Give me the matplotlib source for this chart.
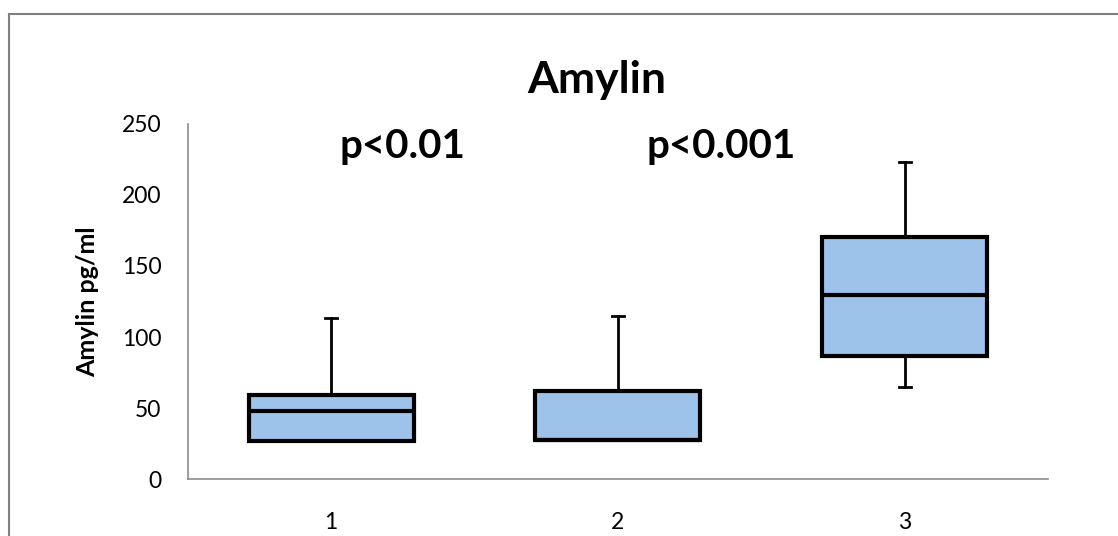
import matplotlib
matplotlib.use('Agg')
import matplotlib.pyplot as plt
from matplotlib.patches import Rectangle

# Box statistics (pg/ml)
groups = ['1', '2', '3']
whisker_low = [27, 27.5, 64.6]
q1 = [27, 27.5, 86.6]
medians = [48.1, 27.5, 129.6]
q3 = [59.2, 62.2, 170.6]
whisker_high = [113.6, 115, 223.2]

pvals = ['p<0.01', 'p<0.001']
pval_x = [1.25, 2.36]
pval_y = 226

plt.rcParams['font.family'] = ['Lato', 'DejaVu Sans']

fig = plt.figure(figsize=(11.18, 5.36), dpi=100)
ax = fig.add_axes([0.168, 0.1063, 0.7694, 0.6624])

stats = []
for i, g in enumerate(groups):
    stats.append({'label': g, 'whislo': whisker_low[i], 'q1': q1[i], 'med': medians[i],
                  'q3': q3[i], 'whishi': whisker_high[i], 'fliers': []})

ax.bxp(stats, positions=[1, 2, 3], widths=0.575, capwidths=0.042, patch_artist=True,
       boxprops=dict(facecolor='#9dc3ea', edgecolor='black', linewidth=3),
       medianprops=dict(color='black', linewidth=3),
       whiskerprops=dict(color='black', linewidth=2),
       capprops=dict(color='black', linewidth=2))

ax.set_xlim(0.5, 3.5)
ax.set_ylim(0, 250)
ax.set_yticks([0, 50, 100, 150, 200, 250])
ax.tick_params(axis='both', length=0, labelsize=16.5)
ax.tick_params(axis='y', pad=19)
ax.tick_params(axis='x', pad=24)
for s in ['top', 'right']:
    ax.spines[s].set_visible(False)
for s in ['left', 'bottom']:
    ax.spines[s].set_color('#8c8c8c')
    ax.spines[s].set_linewidth(1.2)

ax.set_ylabel('Amylin pg/ml', fontsize=18, fontweight='bold', labelpad=16)
fig.text(0.534, 0.8265, 'Amylin', ha='center', va='baseline', fontsize=32, fontweight='bold')
for x, t in zip(pval_x, pvals):
    ax.text(x, pval_y, t, ha='center', va='baseline', fontsize=29, fontweight='bold')

# chart area border (extends beyond the image at right and bottom)
fig.patches.append(Rectangle((8.5 / 1118, -0.1), 1.2, 1.1 - 14 / 536,
                             transform=fig.transFigure, fill=False,
                             edgecolor='#808080', linewidth=1.5))

fig.savefig('out.png', dpi=100)
